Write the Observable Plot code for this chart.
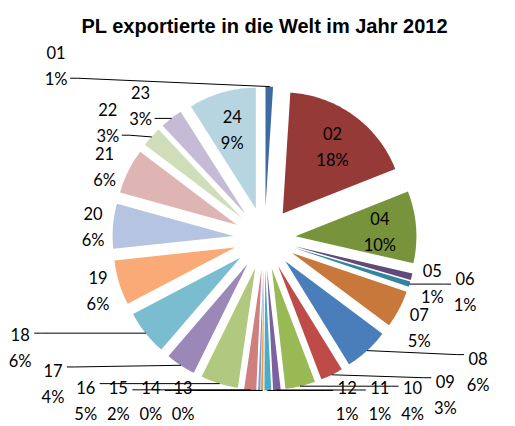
<!DOCTYPE html>
<html><head><meta charset="utf-8">
<script src="https://cdn.jsdelivr.net/npm/d3@7"></script>
<script src="https://cdn.jsdelivr.net/npm/@observablehq/plot@0.6"></script>
<style>html,body{margin:0;padding:0;background:#fff;}</style>
</head><body><div id="chart"></div>
<script>
// ---- data ----
const title = "PL exportierte in die Welt im Jahr 2012";
const categories = ["01","02","04","05","06","07","08","09","10","11","12","13","14","15","16","17","18","19","20","21","22","23","24"];
const shares = [1.0,18.0,9.6,0.9,0.7,5.0,6.0,3.0,4.0,1.0,0.9,0.3,0.3,1.6,5.0,4.0,6.0,6.0,6.0,6.0,2.7,3.0,9.0];
const colors = ["#3C6AA1","#963A38","#77933C","#604A7B","#31859C","#C8783A",
                "#4A7EBB","#BE4B48","#98B954","#7D60A0","#4BACC6","#F79646",
                "#7C9CCF","#CF807E","#B0C97F","#9C88B8","#7ABCD0","#F9AA76",
                "#B5C4E0","#DFB5B4","#D0DDB9","#C5BBD6","#B7D5E0"];

// ---- layout parameters ----
const W = 515, H = 426;
const cx = 264, cy = 238;          // pie centre inside the frame
const explode = 31, radius = 121;
const pieR = explode + radius;
const labelR = 172;
const fs = 16.5, lh = 26;
const fontLabel = "Lato, 'Open Sans', sans-serif";

const total = d3.sum(shares);
let acc = 0;
const slices = categories.map((c, i) => {
  const a0 = acc / total * 2 * Math.PI; acc += shares[i];
  const a1 = acc / total * 2 * Math.PI;
  const b = (a0 + a1) / 2;
  return {c, i, a0, a1, b, ox: explode * Math.sin(b), oy: explode * Math.cos(b),
          pct: Math.round(shares[i] / total * 100) + "%"};
});

const slicePts = slices.flatMap(s => {
  const n = Math.max(2, Math.ceil((s.a1 - s.a0) / (Math.PI / 180)));
  const pts = [{c: s.c, x: s.ox, y: s.oy}];
  for (let k = 0; k <= n; k++) {
    const a = s.a0 + (s.a1 - s.a0) * k / n;
    pts.push({c: s.c, x: s.ox + radius * Math.sin(a), y: s.oy + radius * Math.cos(a)});
  }
  return pts;
});

// ---- labels ----
const ctx = document.createElement("canvas").getContext("2d");
ctx.font = `${fs}px Lato`;
const isInside = s => (s.a1 - s.a0) >= 0.08 * 2 * Math.PI;

const insideLabels = slices.filter(isInside).map(s => ({
  c: s.c, text: s.c + "\n" + s.pct,
  x: s.ox + 0.7 * radius * Math.sin(s.b), y: s.oy + 0.7 * radius * Math.cos(s.b)
}));

const outer = slices.filter(s => !isInside(s)).map(s => {
  const w = Math.max(ctx.measureText(s.c).width, ctx.measureText(s.pct).width);
  const x0 = labelR * Math.sin(s.b), y0 = labelR * Math.cos(s.b);
  return {s, x0, y0, x: x0, y: y0, hw: w / 2 + 3, hh: 21};
});

const xmin = -cx, xmax = W - cx, ymax = cy, ymin = cy - H;
// band occupied by the title and the gap above the pie: labels are moved sideways out of it
const titleBand = {x0: -192, x1: 192, y0: pieR + 8, y1: cy};

function pieAvoid(L) {
  const nx = Math.max(L.x - L.hw, Math.min(0, L.x + L.hw));
  const ny = Math.max(L.y - L.hh, Math.min(0, L.y + L.hh));
  const dist = Math.hypot(nx, ny), need = pieR + 3;
  if (dist < need) {
    const len = Math.hypot(L.x, L.y) || 1, push = need - dist;
    L.x += L.x / len * push; L.y += L.y / len * push;
  }
}
function frame(L) {
  L.x = Math.max(xmin + L.hw + 1, Math.min(xmax - L.hw - 1, L.x));
  L.y = Math.max(ymin + 28, Math.min(ymax - L.hh, L.y));
}
function titleAvoid(L) {
  const inX = L.x + L.hw > titleBand.x0 && L.x - L.hw < titleBand.x1;
  const inY = L.y + L.hh > titleBand.y0 && L.y - L.hh < titleBand.y1;
  if (inX && inY) L.x = titleBand.x0 - L.hw - 2;
}
function collide() {
  for (let a = 0; a < outer.length; a++) for (let b = a + 1; b < outer.length; b++) {
    const A = outer[a], B = outer[b];   // A precedes B clockwise
    const ox = A.hw + B.hw + 4 - Math.abs(A.x - B.x);
    const oy = A.hh + B.hh + 2 - Math.abs(A.y - B.y);
    if (ox > 0 && oy > 0) {
      if (ox < oy) {
        let sg = Math.sign(A.x0 - B.x0);
        if (Math.abs(A.x0 - B.x0) < 5) sg = -Math.sign(B.x0) || 1; // later one goes outward
        A.x += sg * ox / 2; B.x -= sg * ox / 2;
      } else {
        const sg = Math.sign(A.y0 - B.y0) || 1;
        A.y += sg * oy / 2; B.y -= sg * oy / 2;
      }
    }
  }
}
for (let it = 0; it < 500; it++) {
  collide();
  const k = it < 350 ? 0.02 : 0;
  for (const L of outer) {
    L.x += (L.x0 - L.x) * k; L.y += (L.y0 - L.y) * k;
    pieAvoid(L); titleAvoid(L); frame(L);
  }
}

const outerLabels = outer.map(L => ({c: L.s.c, text: L.s.c + "\n" + L.s.pct, x: L.x, y: L.y}));

const leaderPts = outer.filter(L => Math.hypot(L.x - L.x0, L.y - L.y0) > 12).flatMap(L => {
  const s = L.s;
  const ax = s.ox + radius * Math.sin(s.b), ay = s.oy + radius * Math.cos(s.b);
  let px, py, stub;
  if (ax < L.x - L.hw) { px = L.x - L.hw; stub = -7; }
  else if (ax > L.x + L.hw) { px = L.x + L.hw; stub = 7; }
  else { px = L.x; stub = 0; }
  py = Math.max(L.y - L.hh + 6, Math.min(L.y + L.hh - 6, ay));
  if (stub === 0) py = ay > L.y ? L.y + L.hh : L.y - L.hh;
  return [{c: s.c, x: px, y: py}, {c: s.c, x: px + stub, y: py}, {c: s.c, x: ax, y: ay}];
});

const chart = Plot.plot({
  width: W, height: H, margin: 0,
  x: {domain: [xmin, xmax], range: [0, W], axis: null},
  y: {domain: [ymin, ymax], range: [H, 0], axis: null},
  color: {domain: categories, range: colors},
  style: {background: "white"},
  marks: [
    Plot.line(slicePts, {x: "x", y: "y", z: "c", fill: "c", stroke: "none"}),
    Plot.line(leaderPts, {x: "x", y: "y", z: "c", stroke: "black", strokeWidth: 1}),
    Plot.text(insideLabels.concat(outerLabels), {x: "x", y: "y", text: "text", fontSize: fs,
      fontFamily: fontLabel, lineHeight: lh / fs, fill: "black"}),
    Plot.text([title], {frameAnchor: "top", dx: cx - W / 2, dy: 18, text: d => d, fontSize: 20,
      fontWeight: "bold", fontFamily: "'Liberation Sans', Arial, sans-serif", fill: "black"})
  ]
});
document.getElementById("chart").append(chart);
</script>
</body></html>
